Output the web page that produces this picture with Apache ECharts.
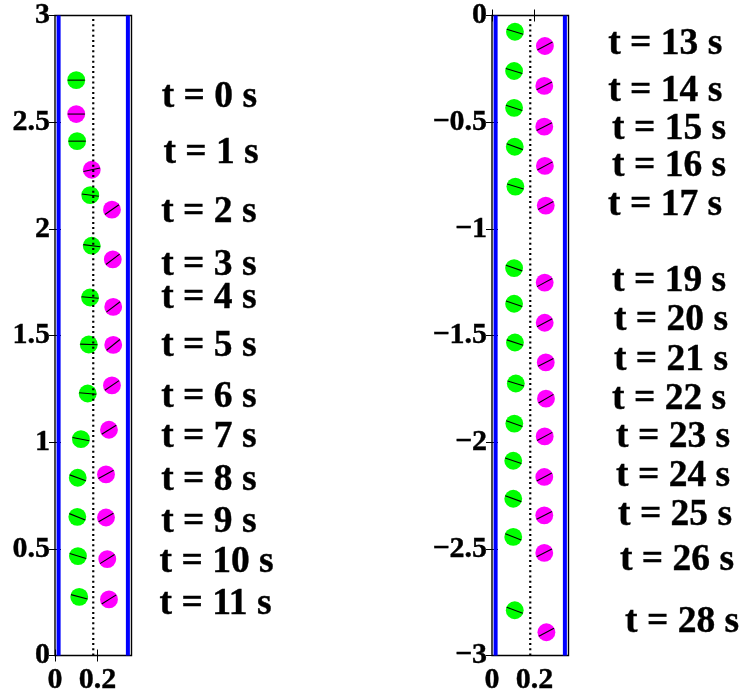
<!DOCTYPE html>
<html>
<head>
<meta charset="utf-8">
<script src="https://cdn.jsdelivr.net/npm/echarts@6/dist/echarts.min.js"></script>
<style>
  html, body { margin: 0; padding: 0; background: #fff; }
  #chart { width: 745px; height: 696px; }
</style>
</head>
<body>
<div id="chart"></div>
<script>
// Two spheres settling in a vertical tube: centre position (x, y) and the
// orientation (degrees) of the line painted across each sphere.

// ---- t = 0 .. 11 s (upper part of the tube) ----
const greenX1   = [0.100, 0.104, 0.166, 0.173, 0.165, 0.159, 0.154, 0.122, 0.107, 0.105, 0.108, 0.114];
const greenY1   = [2.697, 2.411, 2.158, 1.921, 1.678, 1.458, 1.228, 1.014, 0.833, 0.650, 0.466, 0.275];
const greenA1   = [0, 0, -8, -7, -5, -2, -5, -11, -20, -22, -17, -15];
const magentaX1 = [0.100, 0.173, 0.268, 0.272, 0.274, 0.274, 0.268, 0.254, 0.240, 0.240, 0.246, 0.254];
const magentaY1 = [2.538, 2.277, 2.090, 1.857, 1.634, 1.456, 1.266, 1.058, 0.849, 0.647, 0.452, 0.263];
const magentaA1 = [0, 12, 35, 37, 37, 39, 34, 32, 28, 30, 32, 32];
const timeText1 = ['t = 0 s', 't = 1 s', 't = 2 s', 't = 3 s', 't = 4 s', 't = 5 s',
                   't = 6 s', 't = 7 s', 't = 8 s', 't = 9 s', 't = 10 s', 't = 11 s'];
const timeX1    = [0.502, 0.510, 0.500, 0.500, 0.500, 0.500, 0.500, 0.500, 0.500, 0.500, 0.492, 0.492];
const timeY1    = [2.616, 2.352, 2.077, 1.827, 1.674, 1.450, 1.211, 1.023, 0.822, 0.625, 0.438, 0.241];

// ---- t = 13 .. 28 s (lower part of the tube) ----
const greenX2   = [0.108, 0.104, 0.104, 0.107, 0.110, 0.104, 0.104, 0.108, 0.112, 0.105, 0.100, 0.100, 0.100, 0.107];
const greenY2   = [-0.076, -0.260, -0.433, -0.615, -0.802, -1.184, -1.351, -1.533, -1.725, -1.913, -2.087, -2.265, -2.444, -2.788];
const greenA2   = [-17, -17, -18, -20, -17, -19, -19, -18, -17, -19, -19, -20, -22, -21];
const magentaX2 = [0.249, 0.246, 0.246, 0.249, 0.253, 0.248, 0.248, 0.253, 0.254, 0.248, 0.246, 0.246, 0.246, 0.256];
const magentaY2 = [-0.143, -0.330, -0.521, -0.705, -0.891, -1.252, -1.440, -1.626, -1.796, -1.973, -2.163, -2.343, -2.519, -2.891];
const magentaA2 = [28, 27, 27, 28, 28, 28, 28, 27, 30, 28, 28, 27, 27, 28];
const timeText2 = ['t = 13 s', 't = 14 s', 't = 15 s', 't = 16 s', 't = 17 s', 't = 19 s', 't = 20 s',
                   't = 21 s', 't = 22 s', 't = 23 s', 't = 24 s', 't = 25 s', 't = 26 s', 't = 28 s'];
const timeX2    = [0.547, 0.547, 0.565, 0.565, 0.546, 0.565, 0.574, 0.574, 0.565, 0.584, 0.584, 0.593, 0.602, 0.626];
const timeY2    = [-0.133, -0.355, -0.532, -0.705, -0.892, -1.248, -1.431, -1.614, -1.801, -1.979, -2.162, -2.344, -2.555, -2.845];

// Tube geometry and axis ranges
const sphereRadius = 0.042;
const wallX = [0.017, 0.343];
const centreX = 0.18;
const tubeWidth = 0.36;
const xTicks = [0, 0.2];
const yRange1 = [0, 3];
const yRange2 = [-3, 0];

const SERIF = '"Liberation Serif", "Times New Roman", Times, serif';

function zip3(a, b, c) { return a.map((v, i) => [v, b[i], c[i]]); }

function sphereRenderer(color) {
  return function (params, api) {
    const c = api.coord([api.value(0), api.value(1)]);
    const r = api.size([sphereRadius, 0])[0];
    const a = api.value(2) * Math.PI / 180;
    const dx = 0.96 * r * Math.cos(a), dy = -0.96 * r * Math.sin(a);
    return {
      type: 'group',
      children: [
        { type: 'circle', shape: { cx: c[0], cy: c[1], r: r }, style: { fill: color } },
        { type: 'line', shape: { x1: c[0] - dx, y1: c[1] - dy, x2: c[0] + dx, y2: c[1] + dy },
          style: { stroke: '#000', lineWidth: 1.1 } }
      ]
    };
  };
}

function timeRenderer(texts) {
  return function (params, api) {
    const c = api.coord([api.value(0), api.value(1)]);
    return {
      type: 'text', x: c[0], y: c[1],
      style: { text: texts[params.dataIndex], fill: '#000', fontFamily: SERIF,
               fontWeight: 'bold', fontSize: 37.5, align: 'left', verticalAlign: 'middle',
               stroke: '#000', lineWidth: 0.4 }
    };
  };
}

function fmtNum(v) { return String(+v.toFixed(2)).replace('-', '\u2212'); }

const tickLabelStyle = { color: '#000', fontFamily: SERIF, fontWeight: 'bold', fontSize: 30,
                         textBorderColor: '#000', textBorderWidth: 0.4 };

function xAxes(gridIndex) {
  return [
    { type: 'value', gridIndex, min: 0, max: tubeWidth, position: 'bottom',
      axisLine: { show: false }, splitLine: { show: false },
      axisTick: { inside: true, length: 6, lineStyle: { color: '#000', width: 1 }, customValues: xTicks },
      axisLabel: Object.assign({ customValues: xTicks, formatter: fmtNum, margin: 10 }, tickLabelStyle) },
    { type: 'value', gridIndex, min: 0, max: tubeWidth, position: 'top',
      axisLine: { show: false }, splitLine: { show: false },
      axisTick: { inside: true, length: 6, lineStyle: { color: '#000', width: 1 }, customValues: xTicks },
      axisLabel: { show: false } }
  ];
}

function yAxes(gridIndex, range) {
  return [
    { type: 'value', gridIndex, min: range[0], max: range[1], interval: 0.5, position: 'left',
      axisLine: { show: false }, splitLine: { show: false },
      axisTick: { inside: true, length: 6, lineStyle: { color: '#000', width: 1 } },
      axisLabel: Object.assign({ formatter: fmtNum, margin: 5 }, tickLabelStyle) },
    { type: 'value', gridIndex, min: range[0], max: range[1], interval: 0.5, position: 'right',
      axisLine: { show: false }, splitLine: { show: false },
      axisTick: { inside: true, length: 6, lineStyle: { color: '#000', width: 1 } },
      axisLabel: { show: false } }
  ];
}

function tubeSeries(xi, yi, range) {
  const out = [];
  wallX.forEach(function (w) {
    out.push({ type: 'line', xAxisIndex: xi, yAxisIndex: yi, data: [[w, range[0]], [w, range[1]]],
               symbol: 'none', silent: true, z: 2,
               lineStyle: { color: '#0000ff', width: 4 } });
  });
  out.push({ type: 'line', xAxisIndex: xi, yAxisIndex: yi, data: [[centreX, range[0]], [centreX, range[1]]],
             symbol: 'none', silent: true, z: 6,
             lineStyle: { color: '#000', width: 2.2, type: [2, 3.2] } });
  return out;
}

function panelSeries(xi, yi, range, gx, gy, ga, mx, my, ma, tx, ty, tt) {
  return tubeSeries(xi, yi, range).concat([
    { type: 'custom', xAxisIndex: xi, yAxisIndex: yi, z: 4, clip: false,
      renderItem: sphereRenderer('#00ff00'), data: zip3(gx, gy, ga) },
    { type: 'custom', xAxisIndex: xi, yAxisIndex: yi, z: 4, clip: false,
      renderItem: sphereRenderer('#ff00ff'), data: zip3(mx, my, ma) },
    { type: 'custom', xAxisIndex: xi, yAxisIndex: yi, z: 8, clip: false,
      renderItem: timeRenderer(tt), data: tx.map((v, i) => [v, ty[i]]) }
  ]);
}

const chart = echarts.init(document.getElementById('chart'), null, { renderer: 'canvas' });
chart.setOption({
  backgroundColor: '#fff',
  animation: false,
  grid: [
    { left: 55, top: 15.5, width: 76.5, height: 640, show: true, borderColor: '#000', borderWidth: 1.4,
      backgroundColor: 'transparent', containLabel: false, outerBoundsMode: 'none' },
    { left: 492, top: 15.5, width: 76.5, height: 640, show: true, borderColor: '#000', borderWidth: 1.4,
      backgroundColor: 'transparent', containLabel: false, outerBoundsMode: 'none' }
  ],
  xAxis: xAxes(0).concat(xAxes(1)),
  yAxis: yAxes(0, yRange1).concat(yAxes(1, yRange2)),
  series: panelSeries(0, 0, yRange1, greenX1, greenY1, greenA1, magentaX1, magentaY1, magentaA1,
                      timeX1, timeY1, timeText1)
    .concat(panelSeries(2, 2, yRange2, greenX2, greenY2, greenA2, magentaX2, magentaY2, magentaA2,
                        timeX2, timeY2, timeText2))
});
</script>
</body>
</html>
